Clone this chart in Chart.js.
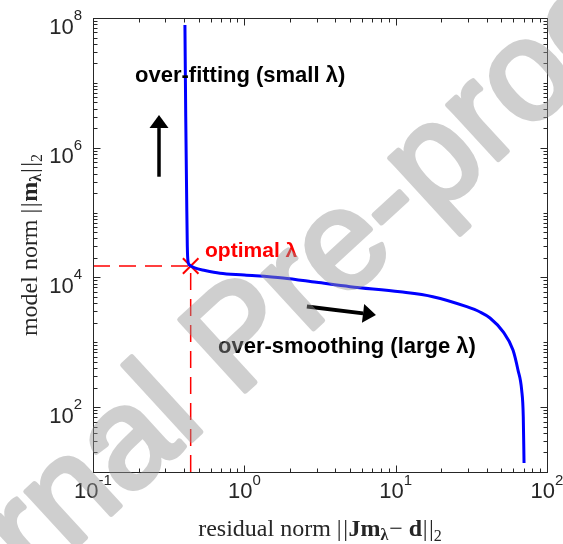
<!DOCTYPE html>
<html>
<head>
<meta charset="utf-8">
<script src="https://cdn.jsdelivr.net/npm/chart.js@4.4.1/dist/chart.umd.min.js"></script>
<style>
  html, body { margin: 0; padding: 0; background: #ffffff; }
  canvas { display: block; }
</style>
</head>
<body>
<canvas id="c" width="563" height="544"></canvas>
<script>
// ---------------- data ----------------
const residualNorm = [0.405, 0.410, 0.416, 0.420, 0.424, 0.435, 0.47, 0.55, 0.69, 1.0, 1.8, 3.0, 5.0, 10.7, 17.6, 29.5, 36.1, 42.0, 51.2, 59.6, 64.3, 68.0, 69.7, 70.5];
const modelNorm    = [7.8e7, 3.0e6, 1.56e5, 3.0e4, 1.8e4, 1.55e4, 1.40e4, 1.28e4, 1.16e4, 1.09e4, 9.8e3, 8.4e3, 7.2e3, 6.0e3, 5.05e3, 3.54e3, 2.93e3, 2.37e3, 1.46e3, 760, 374, 184, 71.3, 13.8];
const optimalPoint = [0.442, 1.5e4];           // [residual, model norm]
const xRange = [0.1, 100];
const yRange = [10, 1e8];
const xTickValues = [0.1, 1, 10, 100];
const xTickExps   = ['-1', '0', '1', '2'];
const yTickValues = [1e2, 1e4, 1e6, 1e8];
const yTickExps   = ['2', '4', '6', '8'];
const xTitle = ['residual norm ', '|', '|', 'Jm', 'λ', '−', 'd', '|', '|', '2'];
const yTitle = ['model norm ', '|', '|', 'm', 'λ', '|', '|', '2'];
const noteFitting   = 'over-fitting (small λ)';
const noteSmoothing = 'over-smoothing (large λ)';
const noteOptimal   = 'optimal λ';
const watermarkText = 'Journal Pre-proof';
// annotation anchors in data coordinates
const noteFittingAt   = [0.1895, 1.03e7];
const noteSmoothingAt = [0.670, 684];
const noteOptimalAt   = [0.55, 2.07e4];
const arrowUp    = [[0.273, 3.57e5], [0.273, 3.19e6]];
const arrowRight = [[2.59, 3.56e3], [7.41, 2.64e3]];

// ---------------- helpers ----------------
const AX = '#262626';
const SANS = '"Liberation Sans", Arial, sans-serif';
const SERIF = '"Liberation Serif", "Times New Roman", serif';

function drawRich(ctx, parts, x, y) {
  let total = 0;
  parts.forEach(p => {
    ctx.font = p.f; p.w = ctx.measureText(p.t).width;
    total += p.w + (p.pre || 0) + (p.post || 0);
  });
  let cx = x - total / 2;
  parts.forEach(p => {
    cx += (p.pre || 0);
    ctx.font = p.f; ctx.fillText(p.t, cx, y + (p.dy || 0));
    cx += p.w + (p.post || 0);
  });
}

function drawArrow(ctx, x0, y0, x1, y1, shaft, headLen, headHalf) {
  const ang = Math.atan2(y1 - y0, x1 - x0);
  const bx = x1 - headLen * Math.cos(ang), by = y1 - headLen * Math.sin(ang);
  ctx.save();
  ctx.strokeStyle = '#000'; ctx.fillStyle = '#000';
  ctx.lineWidth = shaft; ctx.lineCap = 'butt';
  ctx.beginPath(); ctx.moveTo(x0, y0); ctx.lineTo(bx, by); ctx.stroke();
  ctx.beginPath();
  ctx.moveTo(x1, y1);
  ctx.lineTo(bx + headHalf * Math.sin(ang), by - headHalf * Math.cos(ang));
  ctx.lineTo(bx - headHalf * Math.sin(ang), by + headHalf * Math.cos(ang));
  ctx.closePath(); ctx.fill();
  ctx.restore();
}

const overlay = {
  id: 'overlay',
  afterDatasetsDraw(chart) {
    const ctx = chart.ctx;
    const xs = chart.scales.x, ys = chart.scales.y;
    const a = chart.chartArea;
    const L = Math.round(a.left) + 0.5, R = Math.round(a.right) + 0.5;
    const T = Math.round(a.top) + 0.5, B = Math.round(a.bottom) + 0.5;
    ctx.save();
    // frame
    ctx.strokeStyle = AX; ctx.lineWidth = 1;
    ctx.strokeRect(L, T, R - L, B - T);
    // ticks
    const majLen = 7, minLen = 4;
    ctx.beginPath();
    for (let d = -1; d <= 1; d++) {
      for (let k = 1; k <= 9; k++) {
        const v = k * Math.pow(10, d);
        const px = Math.round(xs.getPixelForValue(v)) + 0.5;
        const len = xTickValues.some(t => Math.abs(t - v) / v < 1e-9) ? majLen : minLen;
        ctx.moveTo(px, B); ctx.lineTo(px, B - len);
        ctx.moveTo(px, T); ctx.lineTo(px, T + len);
      }
    }
    for (let d = 1; d <= 7; d++) {
      for (let k = 1; k <= 9; k++) {
        const v = k * Math.pow(10, d);
        const py = Math.round(ys.getPixelForValue(v)) + 0.5;
        const len = yTickValues.some(t => Math.abs(t - v) / v < 1e-9) ? majLen : minLen;
        ctx.moveTo(L, py); ctx.lineTo(L + len, py);
        ctx.moveTo(R, py); ctx.lineTo(R - len, py);
      }
    }
    ctx.stroke();

    // tick labels
    ctx.fillStyle = AX;
    ctx.textBaseline = 'alphabetic';
    ctx.textAlign = 'left';
    const baseFont = '22px ' + SANS, expFont = '15px ' + SANS;
    xTickValues.forEach((v, i) => {
      const px = xs.getPixelForValue(v);
      ctx.font = baseFont; const w1 = ctx.measureText('10').width;
      ctx.font = expFont; const w2 = ctx.measureText(xTickExps[i]).width;
      const sx = px - (w1 + w2) / 2;
      ctx.font = baseFont; ctx.fillText('10', sx, a.bottom + 26);
      ctx.font = expFont; ctx.fillText(xTickExps[i], sx + w1, a.bottom + 13);
    });
    yTickValues.forEach((v, i) => {
      const py = ys.getPixelForValue(v);
      ctx.font = baseFont; const w1 = ctx.measureText('10').width;
      ctx.font = expFont; const w2 = ctx.measureText(yTickExps[i]).width;
      const rx = a.left - 11;
      ctx.font = baseFont; ctx.fillText('10', rx - w2 - w1, py + 15.5);
      ctx.font = expFont; ctx.fillText(yTickExps[i], rx - w2, py + 2);
    });

    // axis titles
    const reg = '24px ' + SERIF, bold = 'bold 24px ' + SERIF;
    const subB = 'bold 16px ' + SERIF, sub = '16px ' + SERIF;
    drawRich(ctx, [
      { t: xTitle[0], f: reg }, { t: xTitle[1], f: reg, post: 1.5 }, { t: xTitle[2], f: reg, post: 0.5 },
      { t: xTitle[3], f: bold }, { t: xTitle[4], f: subB, dy: 4, post: 1 },
      { t: xTitle[5], f: reg, post: 6 }, { t: xTitle[6], f: bold, post: 0.5 },
      { t: xTitle[7], f: reg, post: 1.5 }, { t: xTitle[8], f: reg }, { t: xTitle[9], f: sub, dy: 5 }
    ], (a.left + a.right) / 2, a.bottom + 64);
    ctx.save();
    ctx.translate(37, (a.top + a.bottom) / 2);
    ctx.rotate(-Math.PI / 2);
    drawRich(ctx, [
      { t: yTitle[0], f: reg }, { t: yTitle[1], f: reg, post: 1.5 }, { t: yTitle[2], f: reg, post: 0.5 },
      { t: yTitle[3], f: bold }, { t: yTitle[4], f: subB, dy: 4, post: 1 },
      { t: yTitle[5], f: reg, post: 1.5 }, { t: yTitle[6], f: reg }, { t: yTitle[7], f: sub, dy: 5 }
    ], 0, 0);
    ctx.restore();

    // annotations
    ctx.fillStyle = '#000000';
    ctx.font = 'bold 22px ' + SANS;
    ctx.fillText(noteFitting, xs.getPixelForValue(noteFittingAt[0]), ys.getPixelForValue(noteFittingAt[1]));
    ctx.fillText(noteSmoothing, xs.getPixelForValue(noteSmoothingAt[0]), ys.getPixelForValue(noteSmoothingAt[1]));
    ctx.fillStyle = '#ff0000';
    ctx.font = 'bold 21px ' + SANS;
    ctx.fillText(noteOptimal, xs.getPixelForValue(noteOptimalAt[0]), ys.getPixelForValue(noteOptimalAt[1]));

    // arrows
    drawArrow(ctx, xs.getPixelForValue(arrowUp[0][0]), ys.getPixelForValue(arrowUp[0][1]),
                   xs.getPixelForValue(arrowUp[1][0]), ys.getPixelForValue(arrowUp[1][1]), 3.5, 13, 9.5);
    drawArrow(ctx, xs.getPixelForValue(arrowRight[0][0]), ys.getPixelForValue(arrowRight[0][1]),
                   xs.getPixelForValue(arrowRight[1][0]), ys.getPixelForValue(arrowRight[1][1]), 4, 13, 9.5);
    ctx.restore();
  },
  afterDraw(chart) {
    const ctx = chart.ctx;
    const off = document.createElement('canvas');
    off.width = chart.width; off.height = chart.height;
    const o = off.getContext('2d');
    o.translate(-133, 738);
    o.rotate(-42.5 * Math.PI / 180);
    o.font = '141px ' + SANS;
    o.fillStyle = 'rgb(150,150,150)';
    o.strokeStyle = 'rgb(150,150,150)';
    o.lineWidth = 5; o.lineJoin = 'round';
    o.textAlign = 'left'; o.textBaseline = 'alphabetic';
    o.fillText(watermarkText, 0, 0);
    o.strokeText(watermarkText, 0, 0);
    ctx.save();
    ctx.globalAlpha = 0.45;
    ctx.drawImage(off, 0, 0);
    ctx.restore();
  }
};

new Chart(document.getElementById('c'), {
  type: 'scatter',
  data: {
    datasets: [
      {
        label: 'L-curve',
        data: residualNorm.map((x, i) => ({ x: x, y: modelNorm[i] })),
        showLine: true, borderColor: '#0000ff', borderWidth: 3,
        pointRadius: 0, cubicInterpolationMode: 'monotone', fill: false
      },
      {
        label: 'h',
        data: [{ x: xRange[0], y: optimalPoint[1] }, { x: optimalPoint[0], y: optimalPoint[1] }],
        showLine: true, borderColor: '#ff0000', borderWidth: 1.5, borderDash: [17, 9],
        pointRadius: 0, fill: false
      },
      {
        label: 'v',
        data: [{ x: optimalPoint[0], y: yRange[0] }, { x: optimalPoint[0], y: optimalPoint[1] }],
        showLine: true, borderColor: '#ff0000', borderWidth: 1.5, borderDash: [17, 9],
        pointRadius: 0, fill: false
      },
      {
        label: 'optimal',
        data: [{ x: optimalPoint[0], y: optimalPoint[1] }],
        showLine: false, pointStyle: 'crossRot', pointRadius: 11,
        borderColor: '#ff0000', backgroundColor: '#ff0000', borderWidth: 2
      }
    ]
  },
  options: {
    responsive: false, animation: false, devicePixelRatio: 1,
    layout: { padding: { left: 93, right: 16, top: 18, bottom: 72 } },
    plugins: { legend: { display: false }, tooltip: { enabled: false } },
    scales: {
      x: { type: 'logarithmic', min: xRange[0], max: xRange[1], display: false },
      y: { type: 'logarithmic', min: yRange[0], max: yRange[1], display: false }
    }
  },
  plugins: [overlay]
});
</script>
</body>
</html>
